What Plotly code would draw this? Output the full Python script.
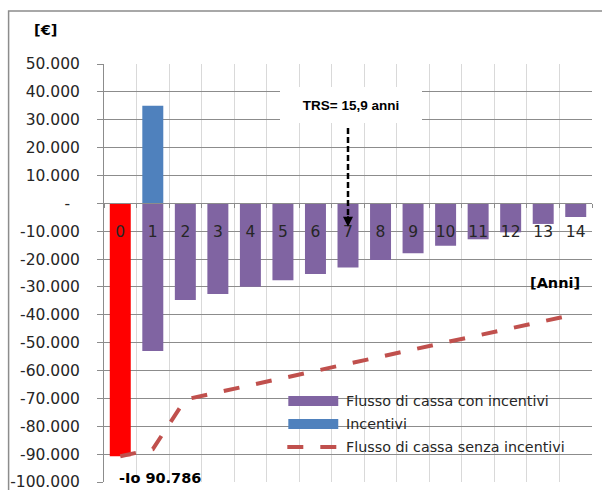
import plotly.graph_objects as go

# Years of the investment horizon
anni = [str(i) for i in range(15)]

# Cash flow with incentives (year 0 = initial investment Io)
flusso_con_incentivi = [-90786, -53000, -34700, -32500, -29900, -27600, -25400,
                        -23000, -20300, -17900, -15200, -12900, -10400, -7400, -4900]
# Incentive received
incentivi = [None, 35000, None, None, None, None, None, None, None, None,
             None, None, None, None, None]
# Cash flow without incentives
flusso_senza_incentivi = [-90786, -88200, -70400, -67800, -65300, -62700, -60200,
                          -57600, -55100, -52500, -49900, -47400, -44800, -42300, -39800]

y_ticks = [50000, 40000, 30000, 20000, 10000, 0, -10000, -20000, -30000, -40000,
           -50000, -60000, -70000, -80000, -90000, -100000]

trs_label = "TRS= 15,9 anni"
trs_anno = 7

PURPLE = "#8064A2"
BLUE = "#4F81BD"
RED_BAR = "#FF0000"
RED_LINE = "#C0504D"
GRID_H = "#8C8C8C"
GRID_V = "#D9D9D9"
TXT = "#262626"
FONT = "DejaVu Sans"


def it_num(v):
    # Italian thousands separator; zero shown as a dash
    return "-\u00a0\u00a0" if v == 0 else f"{v:,}".replace(",", ".")


W, H = 602, 490
L, R, T, B = 103.5, 10, 64, 8


def px(x):
    return (x - L) / (W - L - R)


def py(y):
    return (H - B - y) / (H - T - B)


bar_colors = [RED_BAR] + [PURPLE] * (len(anni) - 1)

fig = go.Figure()
fig.add_trace(go.Bar(x=anni, y=flusso_con_incentivi, name="Flusso di cassa con incentivi",
                     marker=dict(color=bar_colors, line=dict(width=0)), showlegend=False))
fig.add_trace(go.Bar(x=anni, y=incentivi, name="Incentivi",
                     marker=dict(color=BLUE, line=dict(width=0)), showlegend=False))
fig.add_trace(go.Scatter(x=anni, y=flusso_senza_incentivi, mode="lines",
                         name="Flusso di cassa senza incentivi",
                         line=dict(color=RED_LINE, width=4, dash="16px,17px"),
                         showlegend=False))

zero_pos = (0 - y_ticks[-1]) / (y_ticks[0] - y_ticks[-1])

fig.update_layout(
    width=W, height=H,
    margin=dict(l=L, r=R, t=T, b=B, pad=0, autoexpand=False),
    paper_bgcolor="white", plot_bgcolor="white",
    barmode="relative", bargap=0.355,
    font=dict(family=FONT, color=TXT),
    xaxis=dict(type="category", tickson="boundaries", showgrid=True, gridcolor=GRID_V,
               gridwidth=1, anchor="free", position=zero_pos, showline=True,
               linecolor=GRID_H, linewidth=1, ticks="outside", ticklen=4,
               tickcolor=GRID_H, tickfont=dict(size=15.5, color=TXT, family=FONT),
               ticklabelstandoff=14, zeroline=False, fixedrange=True, automargin=False),
    yaxis=dict(range=[y_ticks[-1], y_ticks[0]], tickvals=y_ticks,
               ticktext=[it_num(v) for v in y_ticks], showgrid=True, gridcolor=GRID_H,
               gridwidth=1, zeroline=False, showline=True, linecolor=GRID_H, linewidth=1,
               ticks="outside", ticklen=6, tickcolor=GRID_H, ticklabeloverflow="allow",
               tickfont=dict(size=15.5, color=TXT, family=FONT), ticklabelstandoff=14,
               automargin=False),
)

# chart border
fig.add_shape(type="rect", xref="paper", yref="paper", x0=px(8), x1=px(640), y0=py(520), y1=py(11),
              line=dict(color="#8C8C8C", width=1.5), fillcolor="rgba(0,0,0,0)", layer="below")

# payback marker: dashed arrow at year 7
fig.add_shape(type="line", xref="x", yref="y", x0=trs_anno, x1=trs_anno, y0=27000, y1=-5000,
              line=dict(color="black", width=2.5, dash="6px,3px"))
fig.add_annotation(x=trs_anno, y=-8400, xref="x", yref="y", ax=0, ay=-12, axref="pixel",
                   ayref="pixel", showarrow=True, arrowhead=2, arrowsize=1, arrowwidth=2,
                   arrowcolor="black", text="")
fig.add_annotation(x=px(351), y=py(105), xref="paper", yref="paper", xanchor="center",
                   yanchor="middle", text=f"<b>{trs_label}</b>",
                   showarrow=False, bgcolor="white", width=142, height=36, borderpad=0,
                   borderwidth=0, font=dict(family="Liberation Sans", size=13.5, color="black"))

# axis titles
fig.add_annotation(x=px(44.5), y=py(30.5), xref="paper", yref="paper", xanchor="center",
                   yanchor="middle", text="<b>[€]</b>",
                   showarrow=False, font=dict(family=FONT, size=14.5, color="black"))
fig.add_annotation(x=px(554.5), y=py(283), xref="paper", yref="paper", xanchor="center",
                   yanchor="middle", text="<b>[Anni]</b>",
                   showarrow=False, font=dict(family=FONT, size=14.5, color="black"))

# initial investment label
io = flusso_con_incentivi[0]
fig.add_annotation(x=0, y=y_ticks[-1], xref="x", yref="y", xanchor="left", yanchor="middle",
                   xshift=-3, yshift=4, text=f"<b>-Io {it_num(abs(io))}</b>", showarrow=False,
                   font=dict(family=FONT, size=14.5, color="black"))

# legend
legend_rows = [("Flusso di cassa con incentivi", PURPLE, "bar", 401),
               ("Incentivi", BLUE, "bar", 424),
               ("Flusso di cassa senza incentivi", RED_LINE, "line", 447)]
for name, color, kind, yy in legend_rows:
    if kind == "bar":
        fig.add_shape(type="rect", xref="paper", yref="paper", x0=px(288), x1=px(338),
                      y0=py(yy + 5), y1=py(yy - 5), fillcolor=color, line=dict(width=0))
    else:
        fig.add_shape(type="line", xref="paper", yref="paper", x0=px(287), x1=px(337),
                      y0=py(yy), y1=py(yy), line=dict(color=color, width=4, dash="16px,17px"))
    fig.add_annotation(x=px(344), y=py(yy), xref="paper", yref="paper", xanchor="left",
                       yanchor="middle", text=name, showarrow=False,
                       font=dict(family=FONT, size=14.3, color=TXT))

fig.write_html("out.html")
